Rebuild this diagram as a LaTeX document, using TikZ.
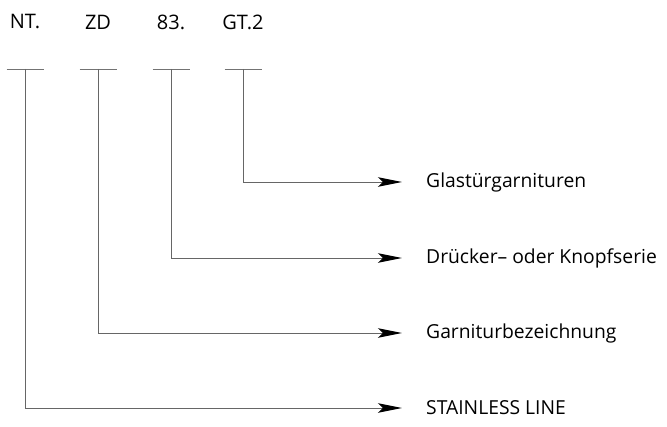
\documentclass[tikz,border=0pt]{standalone}
\usepackage{fontspec}
\setmainfont{Open Sans}
\usetikzlibrary{arrows.meta}

\tikzset{
  codelabel/.style={inner sep=0pt, font=\fontsize{20}{22}\selectfont},
  targetlabel/.style={anchor=west, inner sep=0pt, font=\fontsize{19.3}{22}\selectfont},
  codebar/.style={line width=0.9pt, black!55},
  leader/.style={line width=0.9pt, black!60,
    -{Stealth[length=24pt,width=9.5pt,inset=5pt,black]}, shorten >=24pt},
}

\begin{document}
\begin{tikzpicture}[x=1pt,y=-1pt]

% ---------------- frame ----------------
\useasboundingbox (0,0) rectangle (667,427);

% ---------------- parameters ----------------
\pgfmathsetmacro{\BarY}{69}      % height of the short bars under the codes
\pgfmathsetmacro{\BarHalf}{18.5} % half width of a bar
\pgfmathsetmacro{\TextX}{426}    % left edge of the explanations

% ---------------- code parts and their bars ----------------
\foreach \name/\code/\cx in {NT/NT./25, ZD/ZD/98, EZ/83./171, GT/GT.2/243}{
  \node[codelabel] (c\name) at (\cx,22) {\code};
  \coordinate (b\name) at (\cx,\BarY);
  \draw[codebar] ([xshift=-\BarHalf pt]b\name) -- ([xshift=\BarHalf pt]b\name);
}

% ---------------- explanations ----------------
\node[targetlabel] (tGT) at (\TextX,182) {Glastürgarnituren};
\node[targetlabel] (tEZ) at (\TextX,258) {Drücker– oder Knopfserie};
\node[targetlabel] (tZD) at (\TextX,333) {Garniturbezeichnung};
\node[targetlabel] (tNT) at (\TextX,408) {STAINLESS LINE};

% ---------------- leaders ----------------
\draw[leader] (bGT) |- (tGT.west);
\draw[leader] (bEZ) |- (tEZ.west);
\draw[leader] (bZD) |- (tZD.west);
\draw[leader] (bNT) |- (tNT.west);

\end{tikzpicture}
\end{document}
